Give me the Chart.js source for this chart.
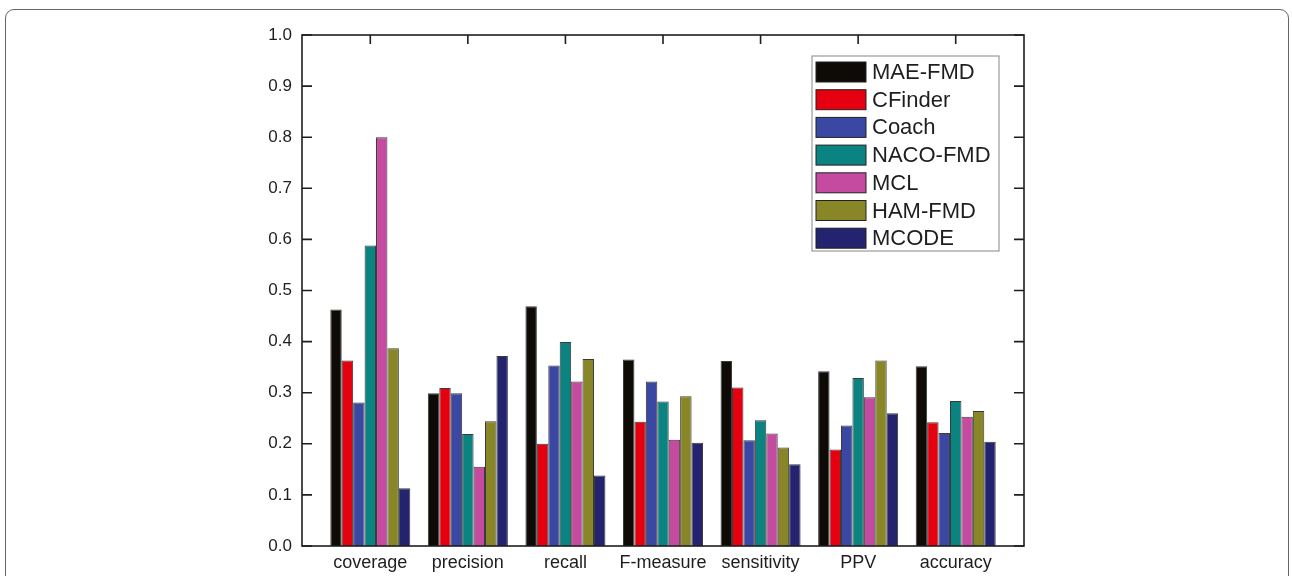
<!DOCTYPE html>
<html>
<head>
<meta charset="utf-8">
<title>Complex detection metrics</title>
<script src="https://cdn.jsdelivr.net/npm/chart.js@4.4.1/dist/chart.umd.min.js"></script>
<style>
  html, body { margin: 0; padding: 0; background: #fff; }
  body { width: 1292px; height: 576px; position: relative; overflow: hidden; }
  .frame {
    position: absolute; left: 5px; top: 9px; width: 1284px; height: 600px;
    border: 1.5px solid #666; border-radius: 9px; box-sizing: border-box;
  }
  #wrap { position: absolute; left: 0; top: 0; width: 1292px; height: 576px; }
</style>
</head>
<body>
<div class="frame"></div>
<div id="wrap"><canvas id="chart"></canvas></div>
<script>
// Evaluation metrics
const categories = ['coverage', 'precision', 'recall', 'F-measure', 'sensitivity', 'PPV', 'accuracy'];

// Scores per method, in the order of the categories above
const maeFmd  = [0.463, 0.299, 0.469, 0.365, 0.362, 0.342, 0.352];
const cfinder = [0.363, 0.309, 0.200, 0.243, 0.310, 0.189, 0.242];
const coach   = [0.281, 0.299, 0.353, 0.322, 0.207, 0.236, 0.221];
const nacoFmd = [0.588, 0.219, 0.399, 0.283, 0.246, 0.329, 0.284];
const mcl     = [0.800, 0.155, 0.322, 0.208, 0.220, 0.291, 0.253];
const hamFmd  = [0.387, 0.244, 0.366, 0.293, 0.193, 0.363, 0.264];
const mcode   = [0.113, 0.372, 0.138, 0.202, 0.160, 0.260, 0.204];

const yTicks = [0.0, 0.1, 0.2, 0.3, 0.4, 0.5, 0.6, 0.7, 0.8, 0.9, 1.0];

const series = [
  { name: 'MAE-FMD',  values: maeFmd,  color: '#0e0b07' },
  { name: 'CFinder',  values: cfinder, color: '#e6000f' },
  { name: 'Coach',    values: coach,   color: '#3b48a3' },
  { name: 'NACO-FMD', values: nacoFmd, color: '#0a8381' },
  { name: 'MCL',      values: mcl,     color: '#c44b9f' },
  { name: 'HAM-FMD',  values: hamFmd,  color: '#888626' },
  { name: 'MCODE',    values: mcode,   color: '#23236f' }
];

const FONT = '"Liberation Sans", Arial, sans-serif';
const INK = '#1e1e1e';

// Closed axis frame with inward tick marks on left, right and top
const frameAxes = {
  id: 'frameAxes',
  afterDraw(chart) {
    const { ctx, chartArea: a, scales } = chart;
    ctx.save();
    ctx.strokeStyle = INK;
    ctx.lineWidth = 1.6;
    ctx.strokeRect(a.left, a.top, a.right - a.left, a.bottom - a.top);
    ctx.beginPath();
    yTicks.forEach(v => {
      const y = scales.y.getPixelForValue(v);
      ctx.moveTo(a.left, y); ctx.lineTo(a.left + 10, y);
      ctx.moveTo(a.right, y); ctx.lineTo(a.right - 10, y);
    });
    categories.forEach((c, i) => {
      const x = scales.x.getPixelForValue(i);
      ctx.moveTo(x, a.top); ctx.lineTo(x, a.top + 9);
    });
    ctx.stroke();
    ctx.restore();
  }
};

// Boxed legend inside the plot, upper right
const boxLegend = {
  id: 'boxLegend',
  afterDraw(chart) {
    const { ctx, chartArea: a } = chart;
    const left = a.right - 212, top = a.top + 21;
    const w = 187, rowH = 27.7, h = 195;
    ctx.save();
    ctx.fillStyle = '#fff';
    ctx.fillRect(left, top, w, h);
    ctx.strokeStyle = '#9a9a9a';
    ctx.lineWidth = 1.2;
    ctx.strokeRect(left, top, w, h);
    ctx.font = '22px ' + FONT;
    ctx.textBaseline = 'middle';
    chart.data.datasets.forEach((ds, i) => {
      const sy = top + 6 + i * rowH;
      ctx.fillStyle = ds.backgroundColor;
      ctx.fillRect(left + 4, sy, 50, 20);
      ctx.strokeStyle = '#222';
      ctx.lineWidth = 1;
      ctx.strokeRect(left + 4, sy, 50, 20);
      ctx.fillStyle = INK;
      ctx.fillText(ds.label, left + 60, sy + 11);
    });
    ctx.restore();
  }
};

new Chart(document.getElementById('chart'), {
  type: 'bar',
  data: {
    datasets: series.map(s => ({
      label: s.name,
      data: s.values.map((v, i) => ({ x: i, y: v })),
      backgroundColor: s.color,
      borderColor: 'rgba(25,25,25,0.85)',
      borderWidth: 1,
      borderSkipped: 'bottom',
      categoryPercentage: 0.82,
      barPercentage: 1.0
    }))
  },
  options: {
    responsive: true,
    maintainAspectRatio: false,
    animation: false,
    layout: { padding: { left: 252, top: 35, right: 268, bottom: 0 } },
    plugins: { legend: { display: false }, tooltip: { enabled: false } },
    scales: {
      x: {
        type: 'linear',
        offset: false,
        min: -0.7,
        max: 6.7,
        afterBuildTicks: axis => { axis.ticks = categories.map((c, i) => ({ value: i })); },
        afterFit: s => { s.height = 30; },
        grid: { display: false, drawTicks: false, offset: false },
        border: { display: false },
        ticks: {
          autoSkip: false,
          maxRotation: 0,
          padding: 6,
          color: INK,
          font: { family: FONT, size: 18 },
          callback: v => categories[v] ?? ''
        }
      },
      y: {
        min: 0,
        max: 1.0,
        afterBuildTicks: axis => { axis.ticks = yTicks.map(v => ({ value: v })); },
        afterFit: s => { s.width = 50; },
        grid: { display: false, drawTicks: false },
        border: { display: false },
        ticks: {
          padding: 10,
          color: INK,
          font: { family: FONT, size: 17 },
          callback: v => Number(v).toFixed(1)
        }
      }
    }
  },
  plugins: [frameAxes, boxLegend]
});
</script>
</body>
</html>
